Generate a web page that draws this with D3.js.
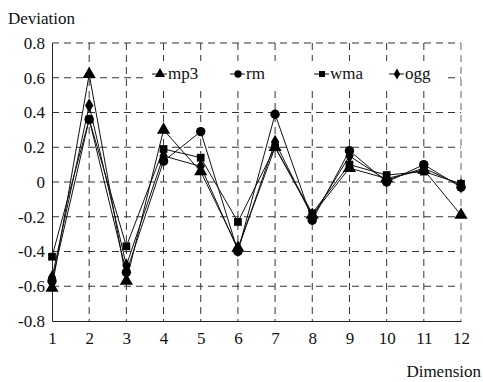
<!DOCTYPE html>
<html>
<head>
<meta charset="utf-8">
<title>Deviation by dimension</title>
<script src="https://cdn.jsdelivr.net/npm/d3@7"></script>
<style>
  body { margin: 0; background: #fff; font-family: 'Liberation Serif', serif; }
  text { font-family: 'Liberation Serif', serif; }
</style>
</head>
<body>
<div id="chart"></div>
<script>
// values
const dims = [1, 2, 3, 4, 5, 6, 7, 8, 9, 10, 11, 12];
const mp3 = [-0.61, 0.62, -0.57, 0.30, 0.06, -0.38, 0.20, -0.19, 0.08, 0.02, 0.07, -0.19];
const rm  = [-0.57, 0.36, -0.52, 0.12, 0.29, -0.40, 0.39, -0.22, 0.18, 0.00, 0.10, -0.03];
const wma = [-0.43, 0.36, -0.37, 0.19, 0.14, -0.23, 0.20, -0.18, 0.10, 0.04, 0.06, -0.01];
const ogg = [-0.55, 0.44, -0.48, 0.15, 0.09, -0.39, 0.23, -0.20, 0.15, 0.01, 0.08, -0.02];
const yTicks = [-0.8, -0.6, -0.4, -0.2, 0, 0.2, 0.4, 0.6, 0.8];
const seriesNames = ["mp3", "rm", "wma", "ogg"];
const seriesSymbols = [d3.symbolTriangle, d3.symbolCircle, d3.symbolSquare, d3.symbolDiamond];

const width = 483, height = 382;
const mLeft = 52, mRight = 461, mTop = 43, mBottom = 321;
const fontName = "Liberation Serif";

const svg = d3.select("#chart").append("svg")
    .attr("width", width)
    .attr("height", height)
    .attr("font-family", fontName);

//----------------------------SCALES----------------------------//
const x = d3.scaleLinear().domain([1, 12]).range([mLeft, mRight]);
const y = d3.scaleLinear().domain([-0.8, 0.8]).range([mBottom, mTop]);

//-----------------------------GRID-----------------------------//
const gridH = svg.append("g").attr("class", "grid-h");
gridH.selectAll("line")
    .data(yTicks.filter(d => d > -0.8))
    .enter().append("line")
    .attr("x1", mLeft).attr("x2", mRight)
    .attr("y1", d => y(d)).attr("y2", d => y(d))
    .attr("stroke", "#333")
    .attr("stroke-width", 1)
    .attr("stroke-dasharray", "7,5");

const gridV = svg.append("g").attr("class", "grid-v");
gridV.selectAll("line")
    .data(dims.filter(d => d > 1))
    .enter().append("line")
    .attr("x1", d => x(d)).attr("x2", d => x(d))
    .attr("y1", mTop).attr("y2", mBottom)
    .attr("stroke", d => d === 12 ? "#999" : "#333")
    .attr("stroke-width", d => d === 12 ? 1.5 : 1)
    .attr("stroke-dasharray", "7,5");

//-----------------------------AXES-----------------------------//
const fmt = d => d === 0 ? "0" : d3.format(".1f")(d).replace("\u2212", "-");

const yaxis = d3.axisLeft(y)
    .tickValues(yTicks)
    .tickSize(0)
    .tickPadding(7)
    .tickFormat(fmt);

const xaxis = d3.axisBottom(x)
    .tickValues(dims)
    .tickSize(0)
    .tickPadding(11)
    .tickFormat(d3.format("d"));

const gy = svg.append("g")
    .attr("transform", "translate(" + mLeft + ",0)")
    .call(yaxis)
    .attr("font-family", fontName)
    .attr("font-size", 17);
gy.select(".domain").attr("stroke", "#222");
gy.selectAll("text").attr("font-family", fontName).attr("fill", "#111");

const gx = svg.append("g")
    .attr("transform", "translate(0," + mBottom + ")")
    .call(xaxis)
    .attr("font-family", fontName)
    .attr("font-size", 17);
gx.select(".domain").attr("stroke", "#222");
gx.selectAll("text").attr("font-family", fontName).attr("fill", "#111");

svg.append("text")
    .attr("x", 8).attr("y", 24)
    .attr("font-family", fontName)
    .attr("font-size", 17)
    .attr("fill", "#111")
    .text("Deviation");

svg.append("text")
    .attr("x", 481).attr("y", 377)
    .attr("text-anchor", "end")
    .attr("font-family", fontName)
    .attr("font-size", 17)
    .attr("fill", "#111")
    .text("Dimension");

//----------------------------LINES-----------------------------//
const all = [mp3, rm, wma, ogg];
const line = d3.line()
    .x((d, i) => x(dims[i]))
    .y(d => y(d));

all.forEach(function(vals, k) {
    svg.append("path")
        .attr("d", line(vals))
        .attr("fill", "none")
        .attr("stroke", "#111")
        .attr("stroke-width", 1);
});

const symSizes = [75, 70, 60, 60];
all.forEach(function(vals, k) {
    svg.append("g")
        .selectAll("path")
        .data(vals)
        .enter().append("path")
        .attr("transform", (d, i) => "translate(" + x(dims[i]) + "," + y(d) + ")")
        .attr("d", d3.symbol().type(seriesSymbols[k]).size(symSizes[k]))
        .attr("fill", "#000");
});

//----------------------------LEGEND----------------------------//
// white box behind the legend hides the grid there
svg.append("rect")
    .attr("x", 146).attr("y", 61)
    .attr("width", 302).attr("height", 26)
    .attr("fill", "#ffffff")
    .attr("stroke", "none");

const legendX = [160, 238, 322, 397];
const legendY = 74;
seriesNames.forEach(function(name, k) {
    const g = svg.append("g").attr("transform", "translate(" + legendX[k] + "," + legendY + ")");
    g.append("line")
        .attr("x1", -8).attr("x2", 7)
        .attr("stroke", "#111").attr("stroke-width", 1);
    g.append("path")
        .attr("d", d3.symbol().type(seriesSymbols[k]).size(symSizes[k] * 0.6))
        .attr("fill", "#000");
    g.append("text")
        .attr("x", 8).attr("y", 5)
        .attr("font-family", fontName)
        .attr("font-size", 17)
        .attr("fill", "#111")
        .text(name);
});
</script>
</body>
</html>
